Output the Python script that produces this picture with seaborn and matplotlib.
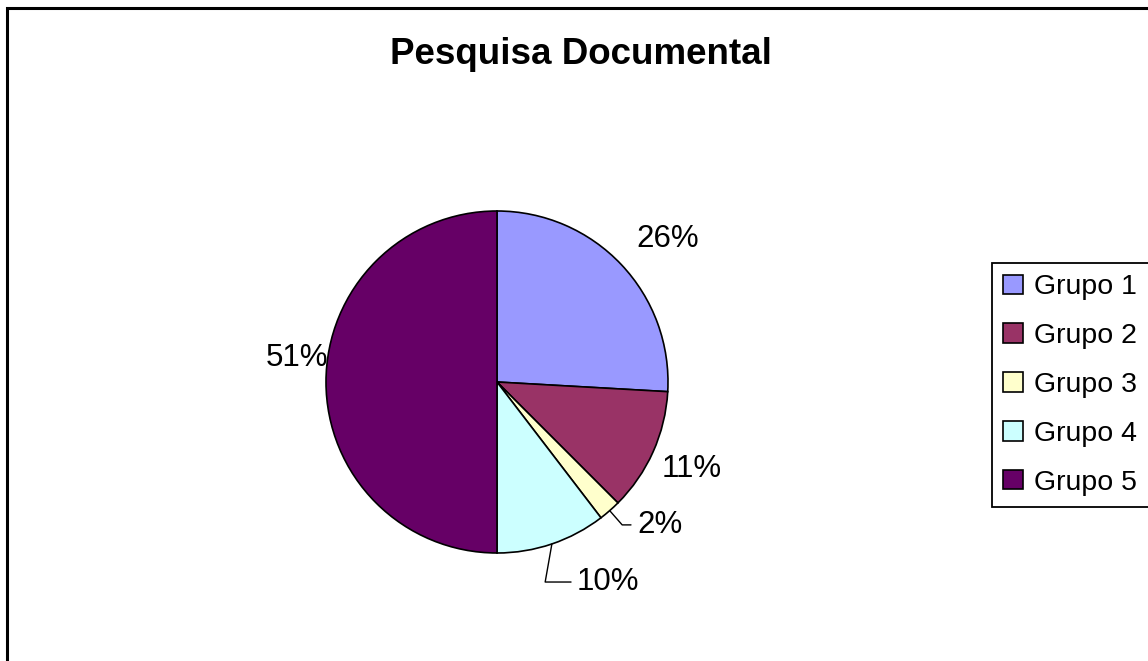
import matplotlib
matplotlib.use("Agg")
import matplotlib.pyplot as plt
import numpy as np
import seaborn as sns

# Data
groups = ["Grupo 1", "Grupo 2", "Grupo 3", "Grupo 4", "Grupo 5"]
shares = [25.9, 11.6, 2.1, 10.4, 50.0]
pct_labels = ["26%", "11%", "2%", "10%", "51%"]
colors = ["#9999FF", "#993366", "#FFFFCC", "#CCFFFF", "#660066"]

# Label layout (distance from centre in radii, angle shift in degrees, leader line angle)
label_radius = [1.30, 1.25, 1.17, 1.26, 1.18]
label_shift = [-3.4, 0.0, 3.2, 3.1, -6.8]
leader_angle = [None, None, "radial", 80, None]

sns.set_style("white")
plt.rcParams["font.family"] = ["Liberation Sans", "DejaVu Sans"]
plt.rcParams["text.color"] = "black"

fig = plt.figure(figsize=(11.48, 6.61), dpi=100)

# Pie axes: centre (497, 382) px, radius 171 px
W, H = 1148, 661
cx, cy, r = 497, 382, 171
ax = fig.add_axes([(cx - r) / W, (H - cy - r) / H, 2 * r / W, 2 * r / H])

wedges, _ = ax.pie(shares, colors=colors, startangle=90, counterclock=False,
                   labels=groups, labeldistance=None,
                   wedgeprops=dict(edgecolor="black", linewidth=1.2))
ax.set_xlim(-1, 1)
ax.set_ylim(-1, 1)
ax.set_aspect("equal")
ax.axis("off")

# Percentage labels
for w, txt, dist, shift, lead in zip(wedges, pct_labels, label_radius, label_shift, leader_angle):
    mid = (w.theta1 + w.theta2) / 2
    ang = np.deg2rad(mid + shift)
    tx, ty = dist * np.cos(ang), dist * np.sin(ang)
    if lead is None:
        ax.text(tx, ty, txt, ha="center", va="center", fontsize=22.5, clip_on=False)
    else:
        angB = mid if lead == "radial" else lead
        ex, ey = np.cos(np.deg2rad(mid)), np.sin(np.deg2rad(mid))
        ax.annotate(txt, xy=(ex, ey), xytext=(tx, ty), ha="left", va="center",
                    fontsize=22.5, annotation_clip=False,
                    arrowprops=dict(arrowstyle="-", color="black", lw=1.0,
                                    shrinkA=2, shrinkB=0, relpos=(0, 0.5),
                                    connectionstyle=f"angle,angleA=0,angleB={angB},rad=0"))

# Title
fig.text(581 / W, 1 - 64 / H, "Pesquisa Documental", ha="center", va="baseline",
         fontsize=26.5, fontweight="bold")

# Legend
leg = fig.legend(handles=wedges, labels=groups, loc="upper left",
                 bbox_to_anchor=(992 / W, 1 - 263 / H), bbox_transform=fig.transFigure,
                 borderaxespad=0, fontsize=20.5, frameon=True, fancybox=False,
                 framealpha=1, handlelength=0.68, handleheight=0.68, handletextpad=0.4,
                 labelspacing=0.8, borderpad=0.4)
leg.get_frame().set_edgecolor("black")
leg.get_frame().set_linewidth(1.3)
for h in leg.legend_handles:
    h.set_linewidth(1.2)

# Chart area border (only the left and top edges fall inside the picture)
fig.add_artist(plt.Rectangle((7 / W, -0.1), 1.2, 1.1 - 8 / H, transform=fig.transFigure,
                             fill=False, edgecolor="black", linewidth=2.2, clip_on=False))

fig.savefig("out.png", dpi=100)
